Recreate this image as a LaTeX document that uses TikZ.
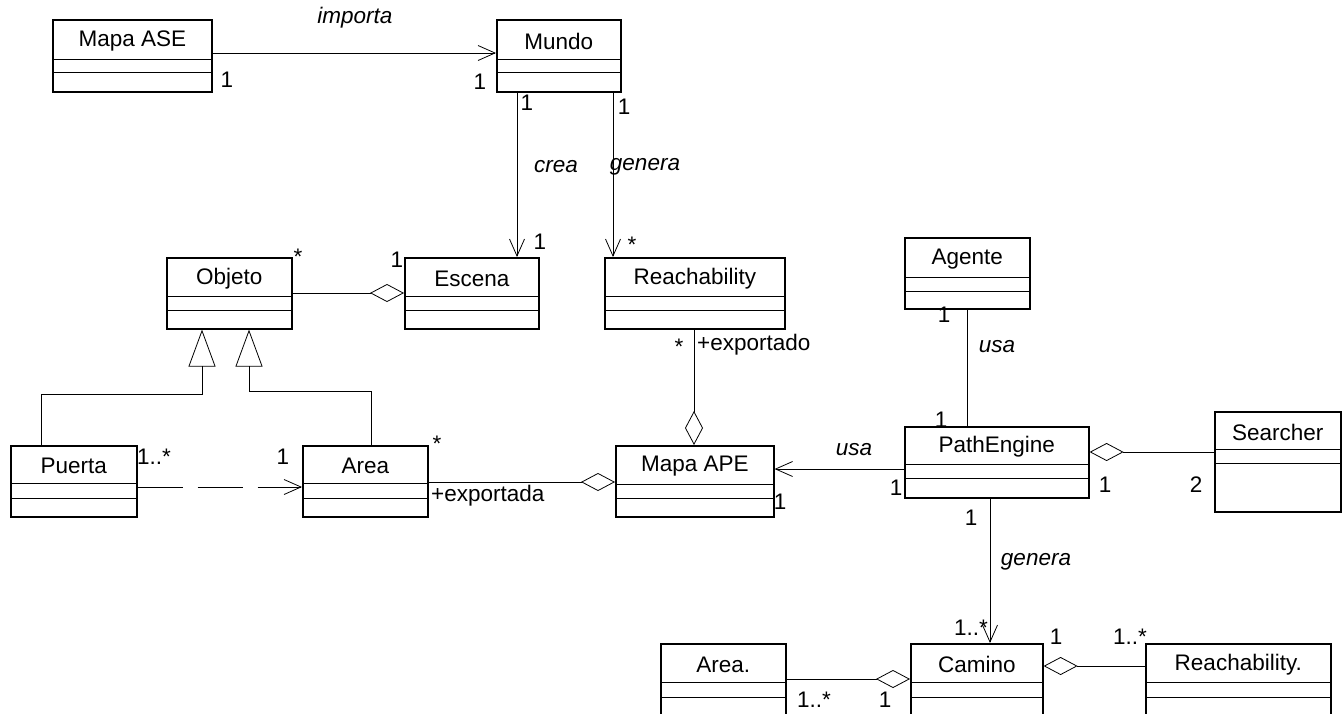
\documentclass[tikz,border=0pt]{standalone}
\usepackage{fontspec}
\setmainfont{Liberation Sans}
\usetikzlibrary{arrows.meta,calc}

\tikzset{
  classbox/.style={draw, line width=1.6pt, inner sep=0pt, anchor=north west},
  divider/.style={line width=1pt},
  assoc/.style={line width=0.8pt},
  navarrow/.style={assoc, -{Straight Barb[length=17pt,width=15pt]}},
  aggr/.style={assoc, -{Diamond[open,length=34pt,width=18pt]}},
  inherit/.style={assoc, -{Triangle[open,length=37pt,width=27pt]}},
  depend/.style={assoc, dash pattern=on 45pt off 15pt, -{Straight Barb[length=17pt,width=15pt]}},
  lbl/.style={font=\fontsize{22.5}{22.5}\selectfont, inner sep=0pt},
  role/.style={font=\fontsize{22.5}{22.5}\selectfont\itshape, inner sep=0pt},
}

% class box: name, x, y, width, height, divider 1, divider 2, title
\newcommand\umlclass[8]{%
  \node[classbox, minimum width=#4pt, minimum height=#5pt] (#1) at (#2,#3) {};
  \draw[divider] ([yshift=-#6pt]#1.north west) -- ([yshift=-#6pt]#1.north east);
  \draw[divider] ([yshift=-#7pt]#1.north west) -- ([yshift=-#7pt]#1.north east);
  \node[lbl, yshift=-2pt] (#1-title) at ($(#1.north west)!0.5!([yshift=-#6pt]#1.north east)$) {#8};
}

\begin{document}
\begin{tikzpicture}[x=1pt,y=-1pt]
  \useasboundingbox (0,0) rectangle (1344,713);
  \clip (0,0) rectangle (1344,713);

  % classes
  \umlclass{mapaase}{52}{19}{159}{72}{40}{53}{Mapa ASE}
  \umlclass{mundo}{496}{19}{124}{72}{40}{53}{Mundo}
  \umlclass{objeto}{166}{257}{125}{71}{39}{53}{Objeto}
  \umlclass{escena}{404}{257}{134}{71}{39}{53}{Escena}
  \umlclass{reach}{604}{257}{180}{71}{39}{53}{Reachability}
  \umlclass{agente}{904}{237}{125}{71}{40}{54}{Agente}
  \umlclass{puerta}{10}{445}{126}{71}{38}{53}{Puerta}
  \umlclass{area}{302}{445}{125}{71}{38}{53}{Area}
  \umlclass{mapaape}{615}{445}{158}{71}{39}{53}{Mapa APE}
  \umlclass{pathengine}{904}{426}{184}{71}{38}{52}{PathEngine}
  \umlclass{searcher}{1214}{411}{126}{100}{38}{52}{Searcher}
  \umlclass{areab}{660}{643}{125}{90}{39}{54}{Area.}
  \umlclass{camino}{910}{643}{132}{90}{39}{54}{Camino}
  \umlclass{reachb}{1145}{643}{185}{90}{39}{54}{Reachability.}

  % associations
  \draw[navarrow] ([yshift=-34pt]mapaase.north east) -- ([yshift=-34pt]mundo.north west);
  \draw[navarrow] ([xshift=21pt]mundo.south west) -- ([xshift=113pt]escena.north west);
  \draw[navarrow] ([xshift=117pt]mundo.south west) -- ([xshift=9pt]reach.north west);
  \draw[aggr] ([yshift=-36pt]objeto.north east) -- ([yshift=-36pt]escena.north west);
  \draw[inherit] ([xshift=31pt]puerta.north west) -- ++(0,-51) -| ([xshift=36pt]objeto.south west);
  \draw[inherit] ([xshift=69pt]area.north west) -- ++(0,-54) -| ([xshift=83pt]objeto.south west);
  \draw[depend] ([yshift=-42pt]puerta.north east) -- ([yshift=-42pt]area.north west);
  \draw[aggr] ([yshift=-37pt]area.north east) -- ([yshift=-37pt]mapaape.north west);
  \draw[aggr] ([xshift=90pt]reach.south west) -- ([xshift=79pt]mapaape.north west);
  \draw[assoc] ([xshift=63pt]agente.south west) -- ([xshift=63pt]pathengine.north west);
  \draw[navarrow] ([yshift=-43pt]pathengine.north west) -- ([yshift=-24pt]mapaape.north east);
  \draw[aggr] ([yshift=-41pt]searcher.north west) -- ([yshift=-26pt]pathengine.north east);
  \draw[navarrow] ([xshift=86pt]pathengine.south west) -- ([xshift=80pt]camino.north west);
  \draw[aggr] ([yshift=-36pt]areab.north east) -- ([yshift=-36pt]camino.north west);
  \draw[aggr] ([yshift=-23pt]reachb.north west) -- ([yshift=-23pt]camino.north east);

  % association names
  \node[role] (t-importa) at (355,18) {importa};
  \node[role] (t-crea) at (556,167) {crea};
  \node[role] (t-genera1) at (645,167) {genera};
  \node[role] (t-usa1) at (997,347) {usa};
  \node[role] (t-usa2) at (854,450) {usa};
  \node[role] (t-genera2) at (1036,562) {genera};

  % multiplicities and roles
  \node[lbl] (m1) at (227,80) {1};
  \node[lbl] (m2) at (480,82) {1};
  \node[lbl] (m3) at (527,103) {1};
  \node[lbl] (m4) at (624,107) {1};
  \node[lbl] (m5) at (540,242) {1};
  \node[lbl] (m6) at (632,245) {*};
  \node[lbl] (m7) at (298,257) {*};
  \node[lbl] (m8) at (397,260) {1};
  \node[lbl] (m9) at (154,457) {1..*};
  \node[lbl] (m10) at (283,457) {1};
  \node[lbl] (m11) at (437,444) {*};
  \node[lbl, anchor=west] (r1) at (431,496) {+exportada};
  \node[lbl] (m12) at (679,347) {*};
  \node[lbl, anchor=west] (r2) at (697,345) {+exportado};
  \node[lbl] (m13) at (944,315) {1};
  \node[lbl] (m14) at (941,420) {1};
  \node[lbl] (m15) at (896,488) {1};
  \node[lbl] (m16) at (780,502) {1};
  \node[lbl] (m17) at (1105,485) {1};
  \node[lbl] (m18) at (1196,485) {2};
  \node[lbl] (m19) at (971,518) {1};
  \node[lbl] (m20) at (971,628) {1..*};
  \node[lbl] (m21) at (814,700) {1..*};
  \node[lbl] (m22) at (885,700) {1};
  \node[lbl] (m23) at (1056,637) {1};
  \node[lbl] (m24) at (1130,637) {1..*};
\end{tikzpicture}
\end{document}
